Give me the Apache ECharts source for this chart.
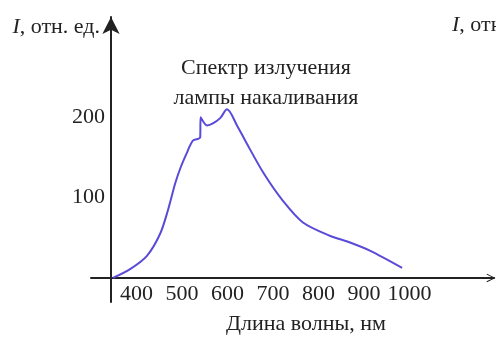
<!DOCTYPE html>
<html>
<head>
<meta charset="utf-8">
<script src="https://cdn.jsdelivr.net/npm/echarts@6/dist/echarts.min.js"></script>
<style>
  html, body { margin: 0; padding: 0; background: #fff; }
  #chart { width: 496px; height: 337px; }
</style>
</head>
<body>
<div id="chart"></div>
<script>
// Emission spectrum of an incandescent lamp (relative intensity vs wavelength, nm)
const wavelengths = [348, 386, 423, 452, 469, 485, 496, 511, 524, 540, 541, 555, 568, 584, 599, 621, 641, 680, 722, 766, 825, 865, 913, 984];
const intensity   = [0, 11, 27.5, 55, 84, 117.5, 136, 156, 171, 175, 200, 190, 192.5, 199, 210, 190, 169, 130, 96, 69, 52.5, 45, 34, 12.5];
const xTicks = [400, 500, 600, 700, 800, 900, 1000];
const yTicks = [100, 200];

const serif = '"Liberation Serif", "DejaVu Serif", serif';
const ink = '#222';

const chart = echarts.init(document.getElementById('chart'), null, { renderer: 'canvas' });

chart.setOption({
  animation: false,
  backgroundColor: '#fff',
  title: [
    {
      text: 'Спектр излучения\nлампы накаливания',
      left: 261,
      top: 48,
      textAlign: 'center',
      textStyle: { fontFamily: serif, fontSize: 22, fontWeight: 'normal', color: ink, lineHeight: 30, align: 'center' }
    },
    {
      // x-axis caption
      text: 'Длина волны, нм',
      left: 306,
      top: 313,
      textAlign: 'center',
      padding: 0,
      textStyle: { fontFamily: serif, fontSize: 22, fontWeight: 'normal', color: ink }
    }
  ],
  grid: { left: 91, right: 2, top: 17, bottom: 35, containLabel: false, outerBoundsMode: 'none' },
  xAxis: {
    type: 'value',
    min: 300,
    max: 1186,
    axisLine: {
      onZero: true,
      lineStyle: { color: ink, width: 2 },
      symbol: ['none', 'path://M0,10 L5,0 L10,10 L9,10.6 L5,2.2 L1,10.6 Z'],
      symbolSize: [16, 9],
      symbolOffset: [0, -3]
    },
    axisTick: { show: false },
    splitLine: { show: false },
    axisLabel: {
      customValues: xTicks,
      formatter: v => String(v),
      fontFamily: serif, fontSize: 22, color: ink, margin: -19
    }
  },
  yAxis: {
    type: 'value',
    min: -30,
    max: 325,
    offset: -20,
    name: '{i|I}, отн. ед.',
    nameLocation: 'end',
    nameGap: -10,
    nameTextStyle: {
      fontFamily: serif, fontSize: 22, color: ink, align: 'right', verticalAlign: 'middle',
      padding: [0, 11, 0, 0],
      rich: { i: { fontFamily: serif, fontStyle: 'italic', fontSize: 22, color: ink } }
    },
    axisLine: {
      show: true,
      lineStyle: { color: ink, width: 2 },
      symbol: ['none', 'arrow'],
      symbolSize: [13, 17],
      symbolOffset: [0, 0]
    },
    axisTick: { show: false },
    splitLine: { show: false },
    axisLabel: {
      customValues: yTicks,
      fontFamily: serif, fontSize: 22, color: ink, margin: 6
    }
  },
  graphic: [
    {
      type: 'text',
      left: 452,
      top: 14,
      style: {
        text: '{i|I}, отн. ед.',
        font: '22px ' + serif,
        fill: ink,
        rich: { i: { fontFamily: serif, fontStyle: 'italic', fontSize: 22, fill: ink } }
      }
    }
  ],
  series: [{
    type: 'line',
    data: wavelengths.map((w, k) => [w, intensity[k]]),
    smooth: 0.3,
    showSymbol: false,
    lineStyle: { color: '#5a4ad8', width: 2 }
  }]
});
</script>
</body>
</html>
